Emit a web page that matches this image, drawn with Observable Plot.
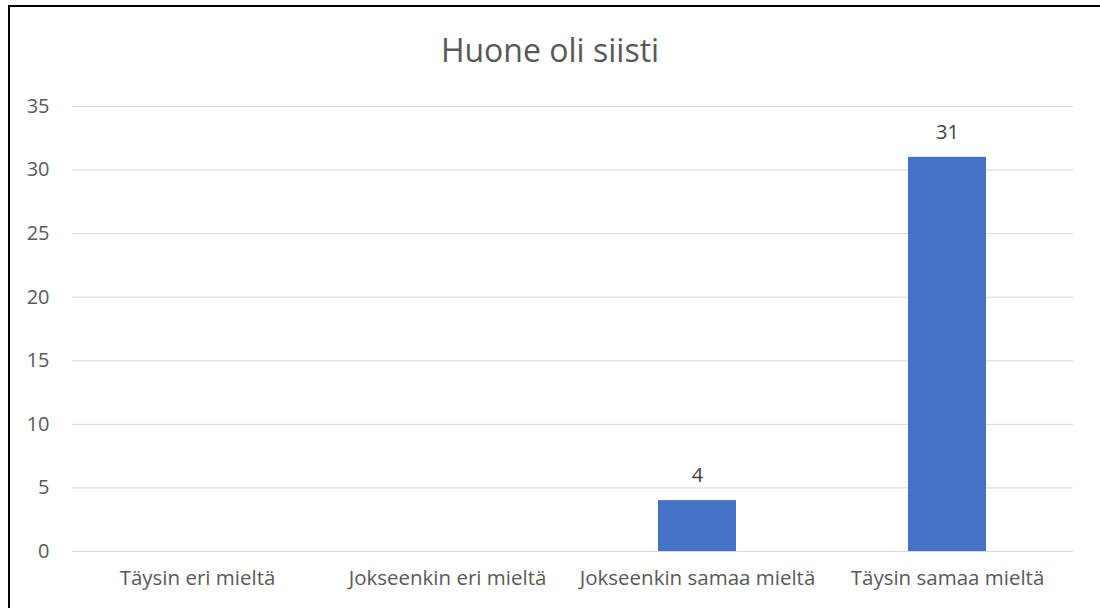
<!DOCTYPE html>
<html>
<head>
<meta charset="utf-8">
<script src="https://cdn.jsdelivr.net/npm/d3@7"></script>
<script src="https://cdn.jsdelivr.net/npm/@observablehq/plot@0.6"></script>
<style>
  html, body { margin: 0; padding: 0; background: #fff; }
  body { width: 1100px; height: 608px; position: relative; overflow: hidden; font-family: "Open Sans", "Noto Sans", sans-serif; }
  #frame { position: absolute; left: 8px; top: 5px; width: 1200px; height: 700px; border-left: 2px solid #000; border-top: 2px solid #000; box-sizing: border-box; pointer-events: none; }
  #title { position: absolute; left: 0; top: 0; width: 1100px; height: 80px; text-align: center; font-size: 32px; color: #595959; line-height: 100px; }
  #chart { position: absolute; left: 0; top: 80px; }
</style>
</head>
<body>
<div id="title">Huone oli siisti</div>
<div id="chart"></div>
<div id="frame"></div>
<script>
const categories = ["Täysin eri mieltä", "Jokseenkin eri mieltä", "Jokseenkin samaa mieltä", "Täysin samaa mieltä"];
const values = [0, 0, 4, 31];
const yTicks = [0, 5, 10, 15, 20, 25, 30, 35];

const data = categories.map((c, i) => ({category: c, value: values[i]}));
const labelled = data.filter(d => d.value > 0);

const chart = Plot.plot({
  width: 1100,
  height: 528,
  marginLeft: 72,
  marginRight: 27,
  marginTop: 26,
  marginBottom: 57,
  style: { fontFamily: "'Open Sans', 'Noto Sans', sans-serif", fontSize: "20.5px", color: "#595959", background: "transparent" },
  x: { domain: categories, paddingInner: 0.688, paddingOuter: 0.344, label: null },
  y: { domain: [0, 35], label: null },
  marks: [
    Plot.gridY(yTicks, { stroke: "#D9D9D9", strokeOpacity: 1, strokeWidth: 1 }),
    Plot.barY(data, { x: "category", y: "value", fill: "#4472C4" }),
    Plot.text(labelled, { x: "category", y: "value", text: d => String(d.value), dy: -25, fill: "#404040", fontSize: 20 }),
    Plot.axisY({ ticks: yTicks, tickSize: 0, tickPadding: 23, label: null, fill: "#595959", fontSize: 20 }),
    Plot.axisX({ tickSize: 0, tickPadding: 19, label: null, fill: "#595959", fontSize: 20.5 })
  ]
});
document.getElementById("chart").appendChild(chart);
</script>
</body>
</html>
